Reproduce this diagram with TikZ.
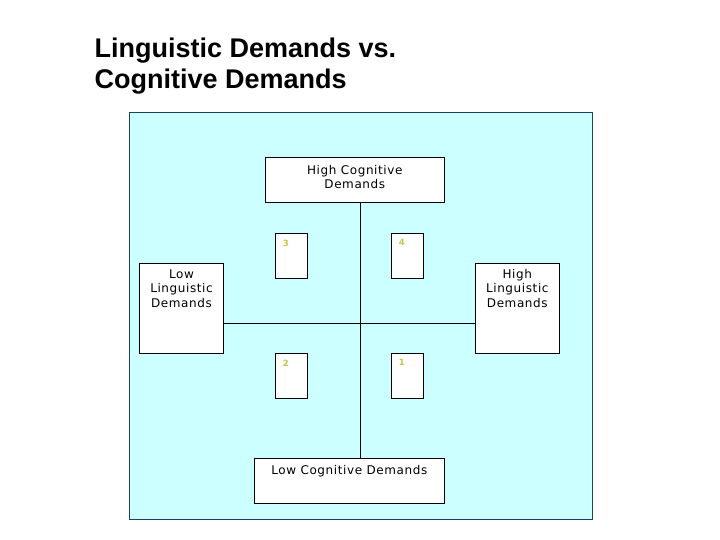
\documentclass[tikz,border=0pt]{standalone}
\usepackage{fontspec}
\setmainfont{Liberation Sans}
\newfontfamily\boxfont[LetterSpace=5]{DejaVu Sans}
\newfontfamily\numfont{DejaVu Sans}
\usetikzlibrary{positioning}
\definecolor{panelfill}{HTML}{CCFFFF}
\definecolor{paneledge}{HTML}{1F4060}
\definecolor{numcol}{HTML}{C4C448}
\tikzset{
  demandbox/.style={draw=black, fill=white, inner sep=0pt},
  quadbox/.style={draw=black, fill=white, inner sep=0pt, minimum width=32pt, minimum height=45pt},
  boxtext/.style={font=\boxfont\fontsize{12}{14.5}\selectfont, align=center, anchor=north, inner sep=0pt},
  quadnum/.style={font=\numfont\bfseries\fontsize{8.5}{10}\selectfont, text=numcol, anchor=north west, inner sep=0pt, xshift=7.5pt, yshift=-6.5pt}
}
\begin{document}
\begin{tikzpicture}[x=1pt,y=-1pt]
      \useasboundingbox (0,0) rectangle (720,540);
      \node[anchor=base west, align=left, font=\bfseries\fontsize{27}{31}\selectfont] (title) at (91,89) {Linguistic Demands vs.\\Cognitive Demands};
      \draw[paneledge, fill=panelfill] (129,112) rectangle (592,519);
      \coordinate (mid) at (360.3,323.3);
      \node[demandbox, minimum width=179pt, minimum height=45pt, label={[boxtext, yshift=-8pt]north:High Cognitive\\Demands}] (hcog) at (354.8,179.8) {};
      \node[demandbox, minimum width=190pt, minimum height=45pt, label={[boxtext, yshift=-7pt]north:Low Cognitive Demands}] (lcog) at (349.3,480.8) {};
      \node[demandbox, minimum width=84pt, minimum height=90pt, label={[boxtext, yshift=-6pt]north:Low\\Linguistic\\Demands}] (lling) at (181.5,308.3) {};
      \node[demandbox, minimum width=84pt, minimum height=90pt, label={[boxtext, yshift=-6pt]north:High\\Linguistic\\Demands}] (hling) at (517.3,308.3) {};
      \node[quadbox, label={[quadnum]north west:3}] (q3) at (291.3,255.8) {};
      \node[quadbox, label={[quadnum]north west:4}] (q4) at (407.3,255.8) {};
      \node[quadbox, label={[quadnum]north west:2}] (q2) at (291.3,375.8) {};
      \node[quadbox, label={[quadnum]north west:1}] (q1) at (407.3,375.8) {};
      \draw (hcog.south -| mid) -- (lcog.north -| mid);
      \draw (lling.east |- mid) -- (hling.west |- mid);
    \end{tikzpicture}
\end{document}
